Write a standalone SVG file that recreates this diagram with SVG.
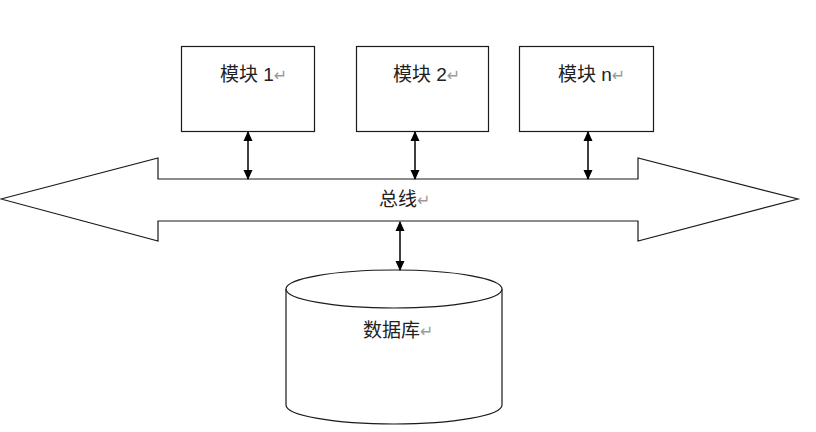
<svg xmlns="http://www.w3.org/2000/svg" width="816" height="432" viewBox="0 0 816 432">
<defs>
<style>
.box{fill:#fff;stroke:#1a1a1a;stroke-width:1.2}
.lbl{font-family:"Liberation Sans","Noto Sans CJK SC",sans-serif;font-size:19px;fill:#222}
.ret{font-family:"DejaVu Sans",sans-serif;font-size:16px;fill:#999}
.con{stroke:#000;stroke-width:1.5;fill:none;marker-start:url(#ah);marker-end:url(#ah)}
</style>
<marker id="ah" viewBox="0 0 10 10" refX="9" refY="5" markerWidth="10" markerHeight="10" markerUnits="userSpaceOnUse" orient="auto-start-reverse">
<path d="M0,0.5 L10,5 L0,9.5 Z" fill="#000"/>
</marker>
</defs>
<rect width="816" height="432" fill="#fff"/>
<g id="bus">
<path class="box" d="M1,199 L158,158 L158,179 L638,179 L638,158 L798,199 L638,241 L638,221 L158,221 L158,241 Z"/>
<text class="lbl" x="379" y="206">总线<tspan class="ret">↵</tspan></text>
</g>
<g id="module1">
<rect class="box" x="181.5" y="46.5" width="133" height="85"/>
<text class="lbl" x="220" y="81">模块 1<tspan class="ret">↵</tspan></text>
</g>
<g id="module2">
<rect class="box" x="356.5" y="46.5" width="132" height="85"/>
<text class="lbl" x="393" y="81">模块 2<tspan class="ret">↵</tspan></text>
</g>
<g id="modulen">
<rect class="box" x="519.5" y="46.5" width="134" height="85"/>
<text class="lbl" x="558" y="81">模块 n<tspan class="ret">↵</tspan></text>
</g>
<g id="database">
<path class="box" d="M286,289 L286,405 A108,19 0 0 0 502,405 L502,289"/>
<ellipse class="box" cx="394" cy="289" rx="108" ry="19"/>
<text class="lbl" x="363" y="337">数据库<tspan class="ret">↵</tspan></text>
</g>
<g id="connectors">
<line class="con" x1="248" y1="132" x2="248" y2="179"/>
<line class="con" x1="415" y1="132" x2="415" y2="179"/>
<line class="con" x1="588" y1="132" x2="588" y2="179"/>
<line class="con" x1="400" y1="222" x2="400" y2="270"/>
</g>
</svg>
